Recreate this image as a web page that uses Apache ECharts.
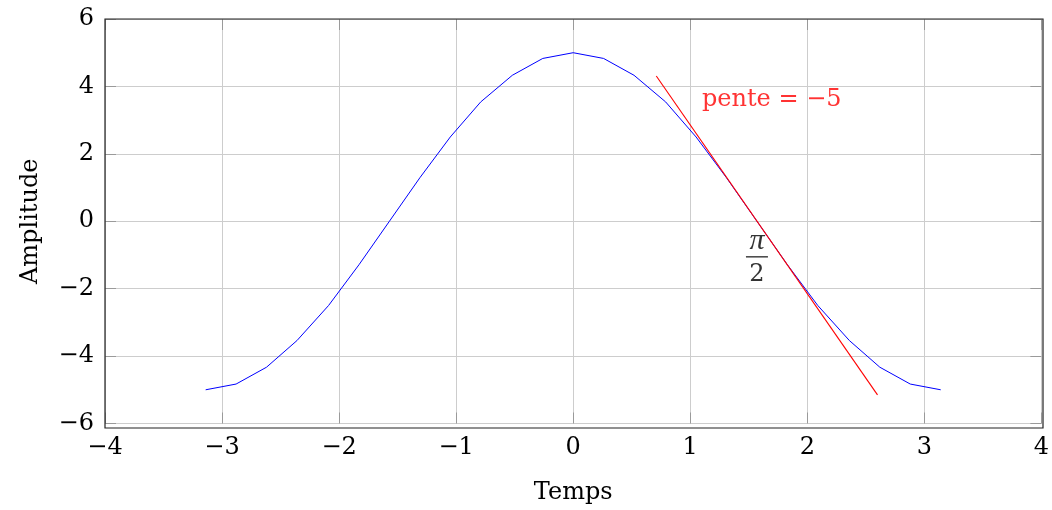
<!DOCTYPE html>
<html><head><meta charset="utf-8">
<script src="https://cdn.jsdelivr.net/npm/echarts@6/dist/echarts.min.js"></script>
<style>html,body{margin:0;padding:0;background:#fff}#c{width:1052px;height:510px}</style>
</head><body><div id="c"></div>
<script>
const xValues = [-3.14,-2.88,-2.62,-2.36,-2.09,-1.83,-1.57,-1.31,-1.05,-0.79,-0.52,-0.26,0,0.26,0.52,0.79,1.05,1.31,1.57,1.83,2.09,2.36,2.62,2.88,3.14];
const yValues = [-5,-4.83,-4.33,-3.54,-2.5,-1.29,0,1.29,2.5,3.54,4.33,4.83,5,4.83,4.33,3.54,2.5,1.29,0,-1.29,-2.5,-3.54,-4.33,-4.83,-5];
const tangentX = [0.71, 2.6];
const tangentY = [4.31, -5.15];
const slopeLabelPos = [1.1, 3.6];
const slopeLabelText = 'pente = −5';
const fracLabelPos = [1.57, -1.1];
const xTicks = [-4,-3,-2,-1,0,1,2,3,4];
const yTicks = [-6,-4,-2,0,2,4,6];
const xTitle = 'Temps';
const yTitle = 'Amplitude';

const FONT = 'DejaVu Serif';
const FS = 24;
const fmt = v => (v < 0 ? '−' + Math.abs(v) : String(v));
const chart = echarts.init(document.getElementById('c'));
const GL = 105, GR = 1043, GT = 19, GB = 423.5, FB = 428;
const tickStyle = {show:true, inside:true, length:11, lineStyle:{color:'#9a9a9a', width:1}};
const noLine = {show:false, onZero:false};
chart.setOption({
  animation:false,
  backgroundColor:'#fff',
  grid:{left:GL, right:1052-GR, top:GT, bottom:510-GB},
  xAxis:[{
    type:'value', position:'bottom', min:xTicks[0], max:xTicks[xTicks.length-1], interval:1,
    axisLine:noLine, axisTick:tickStyle,
    splitLine:{show:true, lineStyle:{color:'#cdcdcd', width:1}},
    axisLabel:{formatter:fmt, color:'#000', fontFamily:FONT, fontSize:FS, margin:12},
    name:xTitle, nameLocation:'middle', nameGap:57,
    nameTextStyle:{color:'#000', fontFamily:FONT, fontSize:FS}
  },{
    type:'value', position:'top', min:xTicks[0], max:xTicks[xTicks.length-1], interval:1,
    axisLine:noLine, axisTick:tickStyle, axisLabel:{show:false}, splitLine:{show:false}
  }],
  yAxis:[{
    type:'value', position:'left', min:yTicks[0], max:yTicks[yTicks.length-1], interval:2,
    axisLine:noLine, axisTick:tickStyle,
    splitLine:{show:true, lineStyle:{color:'#cdcdcd', width:1}},
    axisLabel:{formatter:fmt, color:'#000', fontFamily:FONT, fontSize:FS, margin:11},
    name:yTitle, nameLocation:'middle', nameGap:62,
    nameTextStyle:{color:'#000', fontFamily:FONT, fontSize:FS}
  },{
    type:'value', position:'right', min:yTicks[0], max:yTicks[yTicks.length-1], interval:2,
    axisLine:noLine, axisTick:tickStyle, axisLabel:{show:false}, splitLine:{show:false}
  }],
  graphic:[{type:'rect', shape:{x:GL, y:GT, width:GR-GL, height:FB-GT},
    style:{fill:'none', stroke:'#222', lineWidth:1.2}, z:100}],
  series:[
    {type:'line', data:xValues.map((x,i)=>[x,yValues[i]]), showSymbol:false, symbol:'none',
     lineStyle:{color:'#0000ff', width:1}, z:3},
    {type:'line', data:tangentX.map((x,i)=>[x,tangentY[i]]), showSymbol:false, symbol:'none',
     lineStyle:{color:'#ff0000', width:1.1}, z:4},
    {type:'scatter', data:[slopeLabelPos], symbolSize:0, silent:true,
     label:{show:true, position:'right', distance:0, formatter:slopeLabelText,
       color:'#ff0000', fontFamily:FONT, fontSize:FS}},
    {type:'scatter', data:[fracLabelPos], symbolSize:0, silent:true,
     label:{show:true, position:'inside', align:'center', verticalAlign:'middle',
       formatter:'{n|π}\n{bar|}\n{d|2}',
       rich:{
         n:{fontFamily:'Liberation Serif', fontStyle:'italic', fontSize:30, color:'#000', lineHeight:24, align:'center'},
         bar:{width:22, height:1.4, backgroundColor:'#000', lineHeight:8, align:'center'},
         d:{fontFamily:FONT, fontSize:FS, color:'#000', lineHeight:27, align:'center'}
       }}}
  ]
});
</script></body></html>
